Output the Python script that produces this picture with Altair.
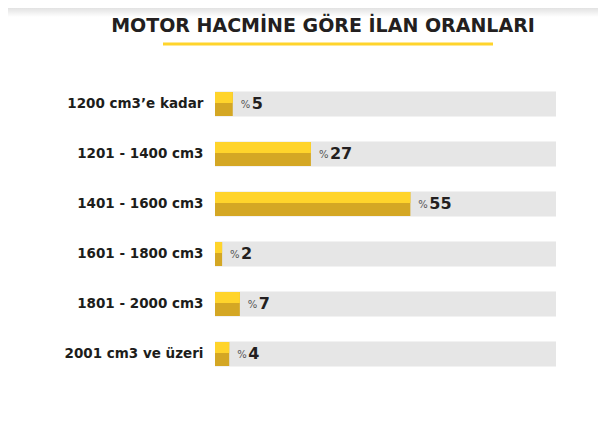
import altair as alt
import pandas as pd

categories = ["1200 cm3\u2019e kadar", "1201 - 1400 cm3", "1401 - 1600 cm3",
              "1601 - 1800 cm3", "1801 - 2000 cm3", "2001 cm3 ve \u00fczeri"]
values = [5, 27, 55, 2, 7, 4]
title_text = "MOTOR HACM\u0130NE G\u00d6RE \u0130LAN ORANLARI"

df = pd.DataFrame({"cat": categories, "val": values, "pct": ["%"] * len(values)})

W, H = 341, 300
FONT = "DejaVu Sans"

y = alt.Y("cat:N", sort=categories, title=None,
          axis=alt.Axis(domain=False, ticks=False, grid=False, labelPadding=12,
                        labelFont=FONT, labelFontWeight="bold", labelFontSize=13.5,
                        labelColor="#1d1d1b"))
xs = alt.Scale(domain=[0, 96], nice=False, zero=True)
x = alt.X("val:Q", scale=xs, axis=None)

base = alt.Chart(df)
deco = alt.Chart(pd.DataFrame({"t": [title_text]}))

shade = deco.mark_rect(
    color=alt.Gradient(gradient="linear", x1=0, y1=0, x2=0, y2=1,
                       stops=[alt.GradientStop(color="#e2e2e2", offset=0),
                              alt.GradientStop(color="#ffffff", offset=1)])
).encode(x=alt.value(-207), x2=alt.value(383), y=alt.value(-71), y2=alt.value(-62))
bg = base.mark_bar(color="#e6e6e6", size=25).encode(
    y=y, x=alt.value(0), x2=alt.value({"expr": "width"}))
dark = base.mark_bar(color="#d4a724", size=24).encode(y=y, x=x)
bright = base.mark_bar(color="#ffd42b", size=11, yOffset=-6.5).encode(y=y, x=x)
pct = base.mark_text(align="left", baseline="middle", dx=8, dy=1, fontSize=10,
                     font=FONT, color="#555555").encode(y=y, x=x, text="pct:N")
num = base.mark_text(align="left", baseline="middle", dx=19, fontSize=16,
                     font=FONT, fontWeight="bold", color="#231f20").encode(
    y=y, x=x, text="val:Q")
underline = deco.mark_rule(color="#ffd42b", strokeWidth=3).encode(
    x=alt.value(-52), x2=alt.value(278), y=alt.value(-35))
title = deco.mark_text(
    font=FONT, fontSize=19, fontWeight="bold", color="#231f20",
    align="center", baseline="middle").encode(
    x=alt.value(108), y=alt.value(-53), text="t:N")

chart = alt.layer(shade, bg, dark, bright, pct, num, underline, title).properties(
    width=W, height=H,
    autosize=alt.AutoSizeParams(type="none"),
    padding={"left": 207, "top": 71, "right": 42, "bottom": 39},
).configure(background="white").configure_view(strokeWidth=0, stroke="transparent")

chart.save("out.html", embed_options={"renderer": "svg", "actions": False})
